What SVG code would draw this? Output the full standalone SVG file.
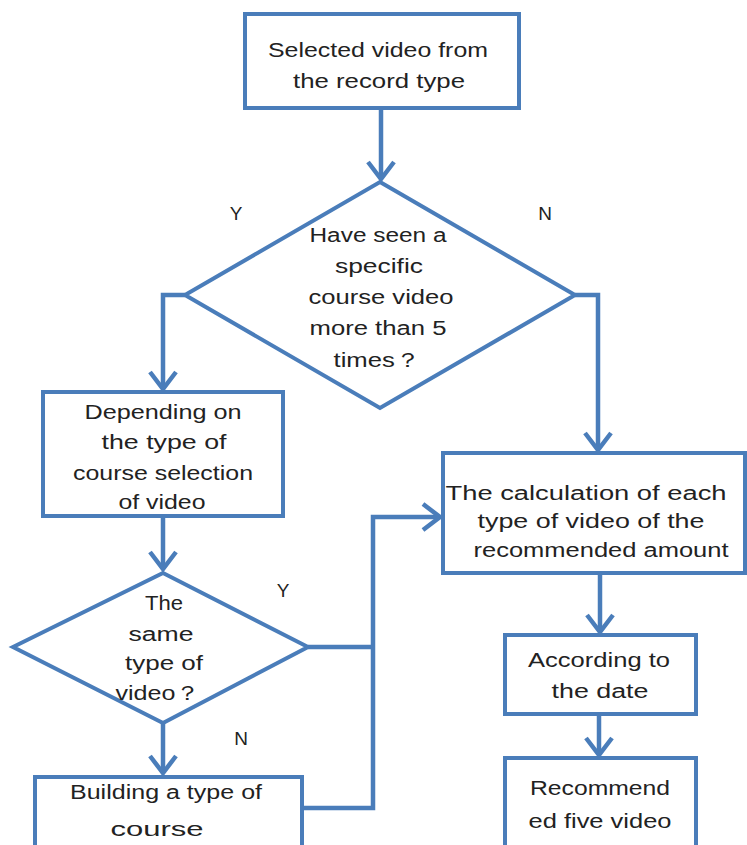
<svg xmlns="http://www.w3.org/2000/svg" width="747" height="845" viewBox="0 0 747 845">
  <style>
    .box { fill: #ffffff; stroke: #4A7DBA; stroke-width: 4; }
    .link { fill: none; stroke: #4A7DBA; stroke-width: 4.5; }
    text { font-family: "Liberation Sans", Arial, sans-serif; font-size: 20px; fill: #222222; text-anchor: middle; }
    .lbl { font-size: 19px; }
  </style>
  <defs>
    <marker id="arrow" markerUnits="userSpaceOnUse" viewBox="-22 -18 26 36" markerWidth="26" markerHeight="36" refX="0" refY="0" orient="auto">
      <path d="M-17,-13 L0,0 L-17,13" fill="none" stroke="#4A7DBA" stroke-width="4.5"/>
    </marker>
  </defs>
  <rect width="747" height="845" fill="#ffffff"/>

  <!-- connectors -->
  <g id="connectors">
    <path class="link" d="M381,108 V179" marker-end="url(#arrow)"/>
    <path class="link" d="M185,295 H163 V389" marker-end="url(#arrow)"/>
    <path class="link" d="M575,295 H598 V450" marker-end="url(#arrow)"/>
    <path class="link" d="M163,516 V569" marker-end="url(#arrow)"/>
    <path class="link" d="M163,723 V773" marker-end="url(#arrow)"/>
    <path class="link" d="M302,808 H373 V517 H440" marker-end="url(#arrow)"/>
    <path class="link" d="M308,647 H373"/>
    <path class="link" d="M600,573 V632" marker-end="url(#arrow)"/>
    <path class="link" d="M599,714 V755" marker-end="url(#arrow)"/>
  </g>

  <!-- branch labels -->
  <g id="labels">
    <text class="lbl" x="236" y="220">Y</text>
    <text class="lbl" x="545" y="220">N</text>
    <text class="lbl" x="283" y="597">Y</text>
    <text class="lbl" x="241" y="745">N</text>
  </g>

  <g id="start">
    <rect class="box" x="245" y="14" width="274" height="94"/>
    <text x="378" y="57" textLength="220" lengthAdjust="spacingAndGlyphs">Selected video from</text>
    <text x="379" y="88" textLength="172" lengthAdjust="spacingAndGlyphs">the record type</text>
  </g>

  <g id="decision-seen">
    <polygon class="box" points="380,182 575,295 380,408 185,295"/>
    <text x="378" y="242" textLength="137" lengthAdjust="spacingAndGlyphs">Have seen a</text>
    <text x="379" y="273" textLength="88" lengthAdjust="spacingAndGlyphs">specific</text>
    <text x="381" y="304" textLength="145" lengthAdjust="spacingAndGlyphs">course video</text>
    <text x="378" y="335" textLength="137" lengthAdjust="spacingAndGlyphs">more than 5</text>
    <text x="377" y="367" textLength="87" lengthAdjust="spacingAndGlyphs">times？</text>
  </g>

  <g id="course-selection">
    <rect class="box" x="43" y="392" width="240" height="124"/>
    <text x="163" y="419" textLength="157" lengthAdjust="spacingAndGlyphs">Depending on</text>
    <text x="164" y="449" textLength="125" lengthAdjust="spacingAndGlyphs">the type of</text>
    <text x="163" y="480" textLength="180" lengthAdjust="spacingAndGlyphs">course selection</text>
    <text x="162" y="509" textLength="87" lengthAdjust="spacingAndGlyphs">of video</text>
  </g>

  <g id="decision-type">
    <polygon class="box" points="163,573 308,647 163,723 13,647"/>
    <text x="164" y="610" textLength="38" lengthAdjust="spacingAndGlyphs">The</text>
    <text x="161" y="641" textLength="65" lengthAdjust="spacingAndGlyphs">same</text>
    <text x="164" y="670" textLength="78" lengthAdjust="spacingAndGlyphs">type of</text>
    <text x="158" y="700" textLength="85" lengthAdjust="spacingAndGlyphs">video？</text>
  </g>

  <g id="build-course">
    <rect class="box" x="35" y="777" width="267" height="80"/>
    <text x="166" y="799" textLength="192" lengthAdjust="spacingAndGlyphs">Building a type of</text>
    <text x="157" y="836" textLength="93" lengthAdjust="spacingAndGlyphs">course</text>
  </g>

  <g id="calculate-amount">
    <rect class="box" x="443" y="453" width="302" height="120"/>
    <text x="586" y="500" textLength="281" lengthAdjust="spacingAndGlyphs">The calculation of each</text>
    <text x="591" y="528" textLength="227" lengthAdjust="spacingAndGlyphs">type of video of the</text>
    <text x="601" y="557" textLength="255" lengthAdjust="spacingAndGlyphs">recommended amount</text>
  </g>

  <g id="by-date">
    <rect class="box" x="505" y="635" width="191" height="79"/>
    <text x="599" y="667" textLength="142" lengthAdjust="spacingAndGlyphs">According to</text>
    <text x="600" y="698" textLength="97" lengthAdjust="spacingAndGlyphs">the date</text>
  </g>

  <g id="recommend">
    <rect class="box" x="505" y="758" width="191" height="100"/>
    <text x="600" y="795" textLength="140" lengthAdjust="spacingAndGlyphs">Recommend</text>
    <text x="600" y="828" textLength="143" lengthAdjust="spacingAndGlyphs">ed five video</text>
  </g>
</svg>
